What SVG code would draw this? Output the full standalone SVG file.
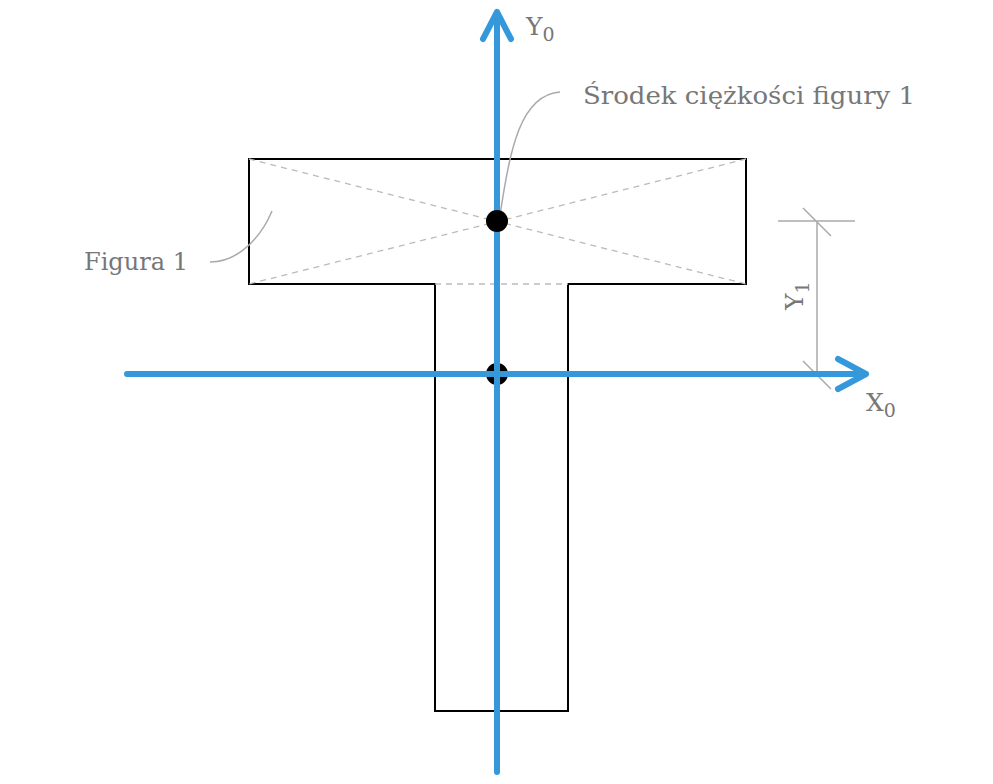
<svg xmlns="http://www.w3.org/2000/svg" width="993" height="784" viewBox="0 0 993 784">
<style>
.t{font-family:"DejaVu Serif","Liberation Serif",serif;fill:#777;font-size:25px;font-weight:300}
.s{font-size:19px}
.ax{stroke:#3498db;stroke-width:6;fill:none;stroke-linecap:round;stroke-linejoin:round}
.g{stroke:#aaa;stroke-width:1.5;fill:none}
.d{stroke:#bbb;stroke-width:1.3;stroke-dasharray:6 5;fill:none}
</style>
<rect width="993" height="784" fill="#fff"/>
<g id="shape">
<path d="M249 159H746V284H568V711H435V284H249Z" fill="none" stroke="#000" stroke-width="2"/>
<path class="d" d="M249 159L746 284M746 159L249 284M435 284H568"/>
</g>
<g id="c0"><circle cx="497" cy="374" r="11" fill="#000"/></g>
<g id="connectors">
<path class="g" d="M500 215C510 150 520 95 560 92"/>
<path class="g" d="M272 211C262 235 240 262 210 262"/>
<path class="g" d="M817 221V374M778 221H855M778 374H855M803 208L831 236M803 361L831 389"/>
<path class="ax" d="M127 374H866M838 359L866 374L838 389"/>
<path class="ax" d="M497 772V12M483 39L497 12L511 39"/>
</g>
<g id="c1"><circle cx="497" cy="221" r="11" fill="#000"/></g>
<g id="labels">
<text class="t" x="526" y="35">Y<tspan class="s" dy="6">0</tspan></text>
<text class="t" x="866" y="411">X<tspan class="s" dy="6">0</tspan></text>
<text class="t" x="583" y="104" textLength="332" lengthAdjust="spacingAndGlyphs">Środek ciężkości figury 1</text>
<text class="t" x="84" y="270" textLength="104" lengthAdjust="spacingAndGlyphs">Figura 1</text>
<text class="t" transform="translate(803,310) rotate(-90)">Y<tspan class="s" dy="6">1</tspan></text>
</g>
</svg>
